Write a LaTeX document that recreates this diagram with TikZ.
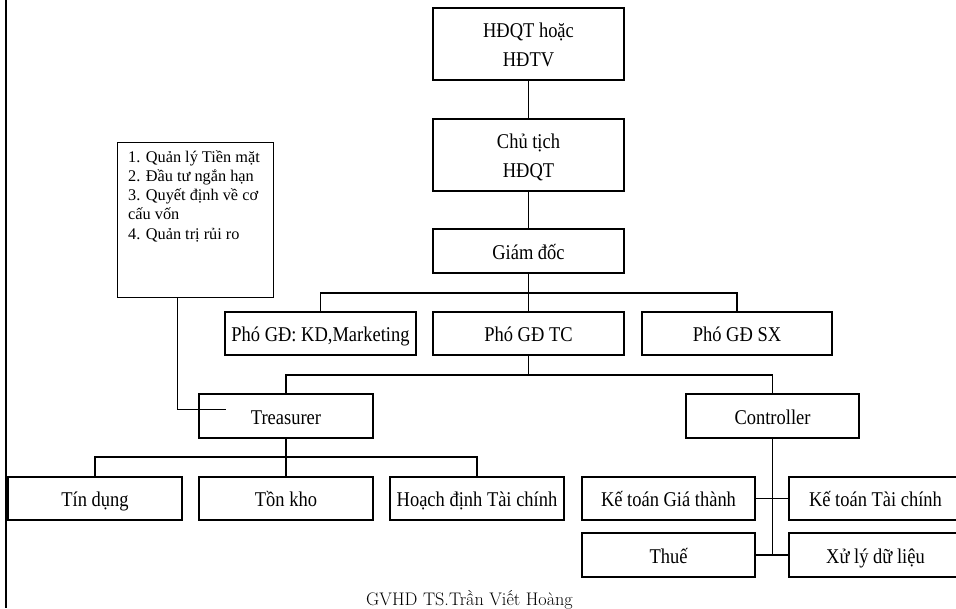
\documentclass[tikz,border=0pt]{standalone}
\usepackage{fontspec}
\newfontfamily\tnr[FakeStretch=0.88]{Liberation Serif}
\newfontfamily\tnrn{Liberation Serif}
\begin{document}
\begin{tikzpicture}[x=1pt,y=-1pt,
  box/.style={draw, line width=1.8pt, inner sep=0pt,
    font=\tnr\fontsize{21}{29}\selectfont, text height=17pt, text depth=1pt},
  two/.style={align=center, text height=46pt, text depth=1pt},
  conn/.style={line width=1.3pt},
  thinconn/.style={line width=1pt}]
\useasboundingbox (0,0) rectangle (956,608);
\draw[line width=2.5pt] (6,0) -- (6,608);
% top chain
\node[box, two, minimum width=191pt, minimum height=72pt] (hdqt) at (528.5,44) {HĐQT hoặc\\HĐTV};
\node[box, two, minimum width=191pt, minimum height=72pt] (chutich) at (528.5,155) {Chủ tịch\\HĐQT};
\node[box, minimum width=191pt, minimum height=44pt] (gd) at (528.5,251) {Giám đốc};
% deputies
\node[box, minimum width=191pt, minimum height=43pt] (kd) at (320.5,333.5) {Phó GĐ: KD,Marketing};
\node[box, minimum width=191pt, minimum height=43pt] (tc) at (528.5,333.5) {Phó GĐ TC};
\node[box, minimum width=190pt, minimum height=43pt] (sx) at (737,333.5) {Phó GĐ SX};
% treasurer / controller
\node[box, minimum width=174pt, minimum height=44pt] (treas) at (286,416) {Treasurer};
\node[box, minimum width=173pt, minimum height=44pt] (ctrl) at (772.5,416) {Controller};
% treasurer children
\node[box, minimum width=174pt, minimum height=43pt] (tin) at (95,498.5) {Tín dụng};
\node[box, minimum width=174pt, minimum height=43pt] (ton) at (286,498.5) {Tồn kho};
\node[box, minimum width=174pt, minimum height=43pt] (hoach) at (477,498.5) {Hoạch định Tài chính};
% controller children
\node[box, minimum width=173pt, minimum height=43pt] (ktgt) at (668.5,498.5) {Kế toán Giá thành};
\node[box, minimum width=173pt, minimum height=43pt] (kttc) at (875.5,498.5) {Kế toán Tài chính};
\node[box, minimum width=173pt, minimum height=44pt] (thue) at (668.5,555) {Thuế};
\node[box, minimum width=173pt, minimum height=44pt] (xuly) at (875.5,555) {Xử lý dữ liệu};
% note box
\node[draw, line width=1.3pt, inner sep=0pt, anchor=north west, minimum width=156pt, minimum height=155pt] (note) at (117,142) {};
\node[anchor=base west, align=left, inner sep=0pt, font=\tnrn\fontsize{16.3}{19.1}\selectfont] (notetext) at (128,239)
  {1. Quản lý Tiền mặt\\2. Đầu tư ngắn hạn\\3. Quyết định về cơ\\cấu vốn\\4. Quản trị rủi ro};
% connectors
\coordinate (bar1) at (528.5,293);
\coordinate (bar2) at (528.5,375);
\coordinate (bar3) at (286,457);
\coordinate (cend) at (772.5,555);
\coordinate (ntip) at (226,409);
\draw[conn] (hdqt) -- (chutich);
\draw[conn] (chutich) -- (gd);
\draw[conn] (gd.south) -- (bar1);
\draw[conn] (kd.north) |- (sx.north |- bar1) -- (sx.north);
\draw[conn] (tc.north) -- (bar1);
\draw[conn] (tc.south) -- (bar2);
\draw[conn] (treas.north) |- (ctrl.north |- bar2) -- (ctrl.north);
\draw[conn] (treas.south) -- (ton.north);
\draw[conn] (tin.north) |- (hoach.north |- bar3) -- (hoach.north);
\draw[conn] (ctrl.south) -- (cend);
\draw[conn] (ktgt.east) -- (kttc.west);
\draw[conn] (thue.east) -- (xuly.west);
\draw[thinconn] (note.south west) ++(60,0) |- (ntip);
% footer
\node[anchor=base, inner sep=0pt, font=\fontsize{18.2}{20}\selectfont] (footer) at (469.5,605) {GVHD TS.Trần Viết Hoàng};
\end{tikzpicture}
\end{document}
